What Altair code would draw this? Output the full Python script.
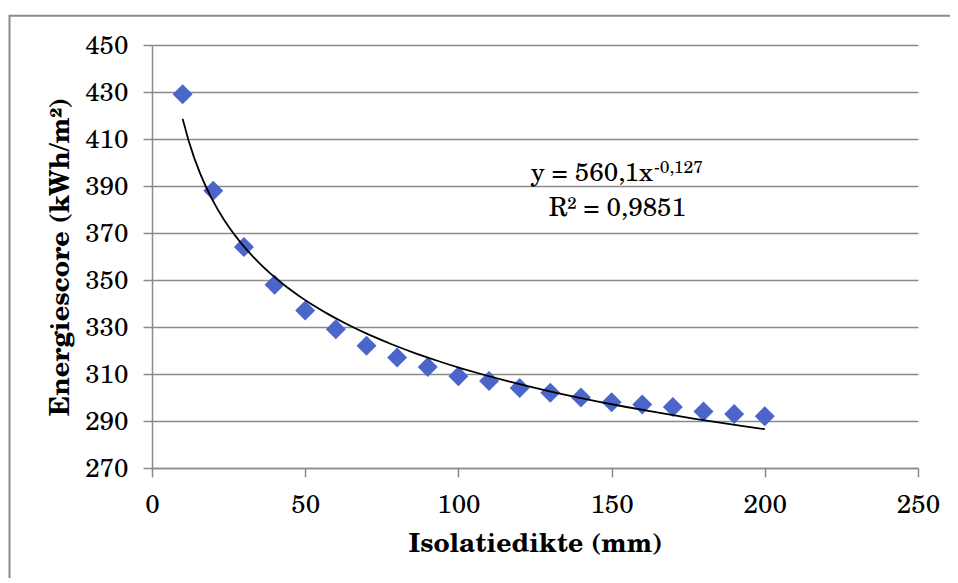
import altair as alt
import pandas as pd

# ---- data ----
thickness_mm = [10, 20, 30, 40, 50, 60, 70, 80, 90, 100,
                110, 120, 130, 140, 150, 160, 170, 180, 190, 200]
energy_score = [429, 388, 364, 348, 337, 329, 322, 317, 313, 309,
                307, 304, 302, 300, 298, 297, 296, 294, 293, 292]

x_ticks = [0, 50, 100, 150, 200, 250]
y_ticks = [270, 290, 310, 330, 350, 370, 390, 410, 430, 450]

eq_main = "y = 560,1x"
eq_sup = "-0,127"
eq_r2 = "R² = 0,9851"

FONT = "TeX Gyre Schola, DejaVu Serif, serif"
GRAY = "#8a8a8a"
BLUE = "#4a66ca"
FS = 26

df = pd.DataFrame({"x": thickness_mm, "y": energy_score})

xscale = alt.Scale(domain=[0, 250], nice=False, zero=False)
yscale = alt.Scale(domain=[270, 450], nice=False, zero=False)

x_enc = alt.X("x:Q", scale=xscale, title="Isolatiedikte (mm)",
              axis=alt.Axis(values=x_ticks, grid=False, tickSize=9, labelFlush=False,
                            labelPadding=14, titlePadding=13, titleFontSize=26.5))
y_enc = alt.Y("y:Q", scale=yscale, title="Energiescore (kWh/m²)",
              axis=alt.Axis(values=y_ticks, grid=True, tickSize=9, labelFlush=False,
                            labelPadding=15, titlePadding=10, titleFontSize=27))

# chart frame (decorative border)
frame = alt.Chart(pd.DataFrame({"a": [0]})).mark_rect(
    fill="transparent", stroke=GRAY, strokeWidth=2
).encode(
    x=alt.value(-142.5), x2=alt.value(900),
    y=alt.value(-29.3), y2=alt.value(700)
)

points = alt.Chart(df).mark_point(
    shape="diamond", filled=True, size=400, color=BLUE, opacity=1
).encode(x=x_enc, y=y_enc)

trend = alt.Chart(df).transform_regression(
    "x", "y", method="pow", extent=[10, 200]
).mark_line(color="black", strokeWidth=1.8).encode(
    x=alt.X("x:Q", scale=xscale), y=alt.Y("y:Q", scale=yscale)
)

ann = pd.DataFrame({
    "x": [163.5, 163.5, 151.9],
    "y": [392.1, 395.5, 377.2],
    "t": [eq_main, eq_sup, eq_r2],
})

t_main = alt.Chart(ann.iloc[[0]]).mark_text(
    align="right", baseline="alphabetic", font=FONT, fontSize=FS, color="black"
).encode(x=alt.X("x:Q", scale=xscale), y=alt.Y("y:Q", scale=yscale), text="t:N")

t_sup = alt.Chart(ann.iloc[[1]]).mark_text(
    align="left", baseline="alphabetic", font=FONT, fontSize=17.5, color="black", dx=1
).encode(x=alt.X("x:Q", scale=xscale), y=alt.Y("y:Q", scale=yscale), text="t:N")

t_r2 = alt.Chart(ann.iloc[[2]]).mark_text(
    align="center", baseline="alphabetic", font=FONT, fontSize=FS, color="black"
).encode(x=alt.X("x:Q", scale=xscale), y=alt.Y("y:Q", scale=yscale), text="t:N")

chart = alt.layer(frame, points, trend, t_main, t_sup, t_r2).properties(
    width=766, height=423,
    autosize=alt.AutoSizeParams(type="none"),
    padding={"left": 144, "top": 37, "right": 32, "bottom": 110},
    background="white",
).configure_view(
    stroke=None
).configure_axis(
    domainColor=GRAY, domainWidth=1.5,
    tickColor=GRAY, tickWidth=1.5,
    gridColor=GRAY, gridWidth=1.5,
    labelFont=FONT, labelFontSize=FS, labelColor="black",
    titleFont=FONT, titleFontWeight="bold", titleColor="black",
)

chart.save("out.html", embed_options={"renderer": "svg", "actions": False})
